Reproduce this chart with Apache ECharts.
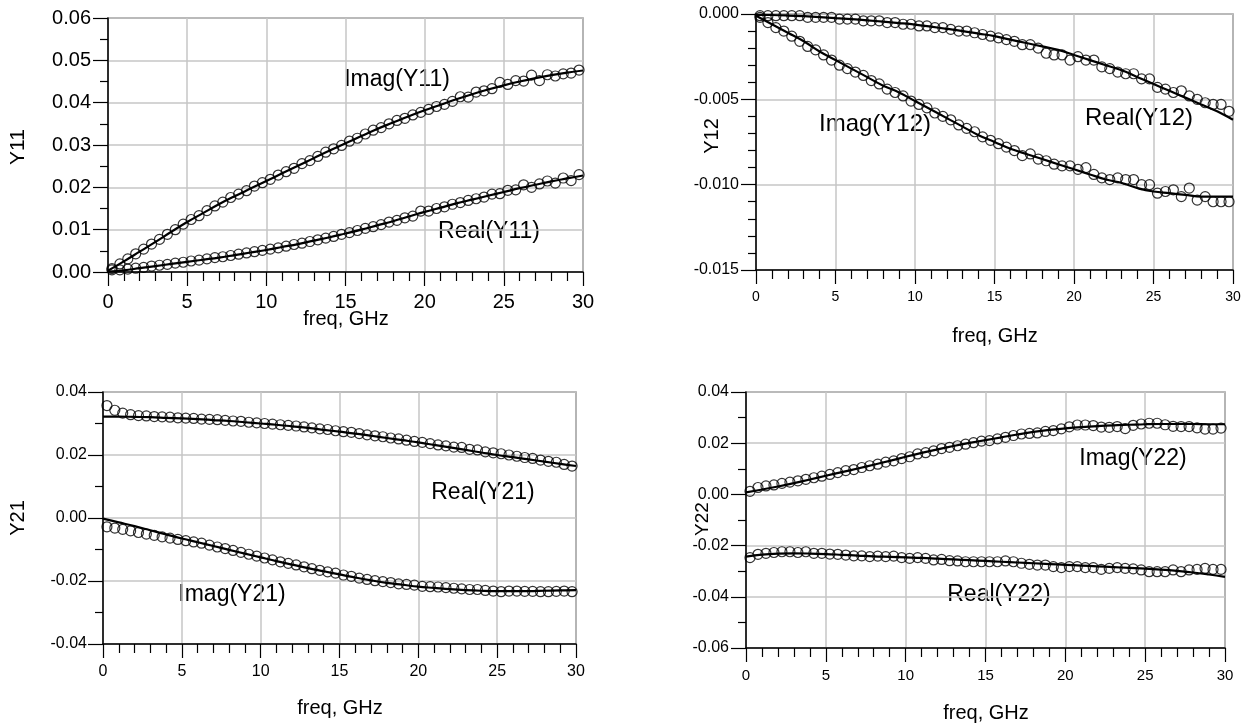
<!DOCTYPE html>
<html><head><meta charset="utf-8">
<script src="https://cdn.jsdelivr.net/npm/echarts/dist/echarts.min.js"></script>
<style>html,body{margin:0;padding:0;background:#fff}#c{width:1250px;height:726px}</style>
</head><body><div id="c"></div>
<script>
// frequency points (GHz)
const freqMeas = [0.25,0.75,1.25,1.75,2.25,2.75,3.25,3.75,4.25,4.75,5.25,5.75,6.25,6.75,7.25,7.75,8.25,8.75,9.25,9.75,
  10.25,10.75,11.25,11.75,12.25,12.75,13.25,13.75,14.25,14.75,15.25,15.75,16.25,16.75,17.25,17.75,18.25,18.75,19.25,19.75,
  20.25,20.75,21.25,21.75,22.25,22.75,23.25,23.75,24.25,24.75,25.25,25.75,26.25,26.75,27.25,27.75,28.25,28.75,29.25,29.75];
const freqModel = [0,1,2,3,4,5,6,7,8,9,10,11,12,13,14,15,16,17,18,19,20,21,22,23,24,25,26,27,28,29,30];

// Y11
const imagY11Meas = [0.0008,0.0019,0.0031,0.0043,0.0054,0.0066,0.0077,0.0089,0.0100,0.0113,0.0124,0.0133,0.0145,0.0156,0.0165,0.0176,0.0184,0.0192,0.0203,0.0211,
  0.0219,0.0229,0.0237,0.0245,0.0256,0.0263,0.0273,0.0283,0.0291,0.0299,0.0309,0.0316,0.0326,0.0335,0.0341,0.0350,0.0358,0.0363,0.0371,0.0377,
  0.0384,0.0391,0.0396,0.0403,0.0414,0.0413,0.0425,0.0428,0.0433,0.0448,0.0443,0.0452,0.0451,0.0465,0.0452,0.0466,0.0463,0.0468,0.0470,0.0477];
const imagY11Model = [0.0003,0.0025,0.0048,0.0071,0.0095,0.0118,0.0139,0.0160,0.0179,0.0197,0.0215,0.0233,0.0251,0.0269,0.0287,0.0304,0.0321,0.0338,0.0353,0.0368,0.0382,0.0395,0.0408,0.0420,0.0431,0.0441,0.0450,0.0458,0.0465,0.0471,0.0476];
const realY11Meas = [0.0005,0.0005,0.0007,0.0009,0.0011,0.0014,0.0016,0.0018,0.0021,0.0023,0.0026,0.0028,0.0031,0.0034,0.0036,0.0039,0.0042,0.0045,0.0048,0.0051,
  0.0054,0.0057,0.0061,0.0065,0.0068,0.0072,0.0076,0.0080,0.0084,0.0089,0.0093,0.0098,0.0103,0.0107,0.0112,0.0118,0.0122,0.0128,0.0132,0.0144,
  0.0144,0.0150,0.0154,0.0160,0.0164,0.0169,0.0173,0.0177,0.0184,0.0185,0.0193,0.0194,0.0206,0.0200,0.0208,0.0215,0.0210,0.0222,0.0216,0.0230];
const realY11Model = [0.0001,0.0004,0.0009,0.0014,0.0019,0.0024,0.0029,0.0034,0.0040,0.0046,0.0052,0.0059,0.0066,0.0074,0.0082,0.0091,0.0100,0.0110,0.0120,0.0131,0.0142,0.0152,0.0162,0.0171,0.0180,0.0189,0.0198,0.0206,0.0214,0.0221,0.0228];

// Y12
const realY12Meas = [-0.0001,-0.0001,-0.0001,-0.0001,-0.0001,-0.0001,-0.0002,-0.0002,-0.0002,-0.0002,-0.0003,-0.0003,-0.0003,-0.0004,-0.0004,-0.0004,-0.0005,-0.0005,-0.0006,-0.0006,
  -0.0007,-0.0007,-0.0008,-0.0008,-0.0009,-0.0010,-0.0010,-0.0011,-0.0012,-0.0013,-0.0014,-0.0015,-0.0016,-0.0018,-0.0018,-0.0020,-0.0023,-0.0024,-0.0024,-0.0027,
  -0.0025,-0.0027,-0.0027,-0.0031,-0.0032,-0.0034,-0.0035,-0.0035,-0.0038,-0.0038,-0.0043,-0.0044,-0.0046,-0.0045,-0.0048,-0.0050,-0.0052,-0.0053,-0.0053,-0.0057];
const realY12Model = [-0.00005,-0.00006,-0.00009,-0.00013,-0.00018,-0.00024,-0.0003,-0.00037,-0.00045,-0.00053,-0.00062,-0.00074,-0.00087,-0.0010,-0.00115,-0.0013,-0.0015,-0.0017,-0.0019,-0.0021,-0.0024,-0.0027,-0.0030,-0.0033,-0.0037,-0.0041,-0.0045,-0.0049,-0.0053,-0.0057,-0.0062];
const imagY12Meas = [-0.0002,-0.0005,-0.0008,-0.0010,-0.0013,-0.0016,-0.0019,-0.0021,-0.0024,-0.0027,-0.0030,-0.0032,-0.0034,-0.0036,-0.0039,-0.0041,-0.0044,-0.0046,-0.0048,-0.0051,
  -0.0053,-0.0055,-0.0058,-0.0060,-0.0062,-0.0065,-0.0067,-0.0069,-0.0072,-0.0074,-0.0076,-0.0078,-0.0080,-0.0083,-0.0082,-0.0085,-0.0086,-0.0088,-0.0089,-0.0089,
  -0.0091,-0.0090,-0.0094,-0.0096,-0.0097,-0.0096,-0.0097,-0.0097,-0.0100,-0.0100,-0.0105,-0.0104,-0.0103,-0.0107,-0.0102,-0.0109,-0.0107,-0.0110,-0.0110,-0.0110];
const imagY12Model = [-0.0001,-0.0006,-0.0011,-0.0016,-0.0022,-0.0027,-0.0032,-0.0037,-0.0042,-0.0046,-0.0051,-0.0056,-0.0061,-0.0066,-0.0071,-0.0075,-0.0079,-0.0082,-0.0085,-0.0088,-0.0091,-0.0094,-0.0097,-0.0099,-0.0102,-0.0104,-0.0105,-0.0106,-0.0107,-0.0107,-0.0107];

// Y21
const realY21Meas = [0.0357,0.0342,0.0333,0.0328,0.0325,0.0324,0.0322,0.0321,0.0320,0.0318,0.0317,0.0316,0.0314,0.0313,0.0312,0.0310,0.0308,0.0307,0.0304,0.0302,
  0.0300,0.0298,0.0296,0.0294,0.0292,0.0289,0.0286,0.0283,0.0281,0.0277,0.0274,0.0272,0.0268,0.0264,0.0261,0.0258,0.0254,0.0251,0.0247,0.0243,
  0.0240,0.0236,0.0232,0.0229,0.0225,0.0224,0.0218,0.0216,0.0210,0.0207,0.0204,0.0200,0.0196,0.0192,0.0189,0.0184,0.0180,0.0177,0.0170,0.0165];
const realY21Model = [0.0322,0.0322,0.0321,0.0320,0.0318,0.0316,0.0314,0.0311,0.0308,0.0304,0.0300,0.0296,0.0291,0.0286,0.0280,0.0274,0.0268,0.0261,0.0254,0.0247,0.0240,0.0232,0.0224,0.0216,0.0208,0.0200,0.0193,0.0186,0.0179,0.0172,0.0165];
const imagY21Meas = [-0.0028,-0.0032,-0.0036,-0.0041,-0.0046,-0.0051,-0.0055,-0.0060,-0.0064,-0.0068,-0.0072,-0.0076,-0.0080,-0.0086,-0.0092,-0.0097,-0.0103,-0.0109,-0.0115,-0.0121,
  -0.0127,-0.0133,-0.0139,-0.0144,-0.0149,-0.0155,-0.0161,-0.0166,-0.0171,-0.0175,-0.0181,-0.0185,-0.0191,-0.0195,-0.0199,-0.0202,-0.0205,-0.0209,-0.0211,-0.0213,
  -0.0217,-0.0218,-0.0219,-0.0221,-0.0223,-0.0225,-0.0227,-0.0227,-0.0230,-0.0232,-0.0234,-0.0232,-0.0232,-0.0233,-0.0233,-0.0234,-0.0234,-0.0233,-0.0232,-0.0234];
const imagY21Model = [-0.0002,-0.0014,-0.0026,-0.0039,-0.0052,-0.0065,-0.0077,-0.0089,-0.0101,-0.0113,-0.0125,-0.0137,-0.0148,-0.0159,-0.0169,-0.0179,-0.0189,-0.0198,-0.0206,-0.0212,-0.0218,-0.0222,-0.0226,-0.0229,-0.0231,-0.0232,-0.0232,-0.0232,-0.0231,-0.0230,-0.0229];

// Y22
const imagY22Meas = [0.0012,0.0027,0.0033,0.0037,0.0043,0.0048,0.0053,0.0059,0.0065,0.0071,0.0078,0.0085,0.0093,0.0097,0.0105,0.0112,0.0118,0.0126,0.0131,0.0140,
  0.0147,0.0158,0.0163,0.0170,0.0179,0.0184,0.0190,0.0196,0.0202,0.0208,0.0210,0.0217,0.0223,0.0230,0.0236,0.0238,0.0240,0.0246,0.0249,0.0256,
  0.0264,0.0271,0.0271,0.0269,0.0263,0.0262,0.0265,0.0257,0.0270,0.0275,0.0278,0.0278,0.0272,0.0266,0.0265,0.0265,0.0260,0.0255,0.0255,0.0259];
const imagY22Model = [0.0008,0.0019,0.0031,0.0044,0.0058,0.0073,0.0087,0.0101,0.0116,0.0131,0.0147,0.0162,0.0176,0.0189,0.0201,0.0212,0.0223,0.0234,0.0244,0.0252,0.0258,0.0263,0.0267,0.0270,0.0272,0.0274,0.0275,0.0275,0.0275,0.0274,0.0274];
const realY22Meas = [-0.0247,-0.0234,-0.0230,-0.0227,-0.0224,-0.0224,-0.0227,-0.0224,-0.0230,-0.0230,-0.0233,-0.0234,-0.0237,-0.0240,-0.0240,-0.0243,-0.0241,-0.0243,-0.0241,-0.0247,
  -0.0250,-0.0247,-0.0250,-0.0256,-0.0254,-0.0259,-0.0260,-0.0263,-0.0263,-0.0263,-0.0263,-0.0263,-0.0260,-0.0263,-0.0269,-0.0273,-0.0276,-0.0276,-0.0282,-0.0286,
  -0.0282,-0.0282,-0.0286,-0.0286,-0.0293,-0.0289,-0.0286,-0.0289,-0.0291,-0.0295,-0.0302,-0.0302,-0.0302,-0.0295,-0.0302,-0.0295,-0.0293,-0.0289,-0.0293,-0.0293];
const realY22Model = [-0.0243,-0.0235,-0.0231,-0.0230,-0.0231,-0.0233,-0.0236,-0.0239,-0.0242,-0.0244,-0.0246,-0.0248,-0.0251,-0.0254,-0.0257,-0.0260,-0.0263,-0.0266,-0.0269,-0.0272,-0.0275,-0.0278,-0.0281,-0.0284,-0.0287,-0.0290,-0.0294,-0.0299,-0.0305,-0.0313,-0.0322];

const xTicks = [0,5,10,15,20,25,30];

const FONT = '"Liberation Sans", Arial, sans-serif';
const chart = echarts.init(document.getElementById('c'), null, {renderer: 'canvas'});

const pairs = (xs, ys) => xs.map((x, i) => [x, ys[i]]);

const panels = [
  {grid:{left:108, top:18, width:475, height:254}, yMin:0, yMax:0.06, yInt:0.01, yMinor:2, dec:2, xFs:20, yFs:20, xMargin:20, yMargin:17,
   meas:[imagY11Meas, realY11Meas], model:[imagY11Model, realY11Model]},
  {grid:{left:756, top:14, width:477, height:256}, yMin:-0.015, yMax:0, yInt:0.005, yMinor:5, dec:3, xFs:14, yFs:16, xMargin:20, yMargin:17,
   meas:[realY12Meas, imagY12Meas], model:[realY12Model, imagY12Model]},
  {grid:{left:103, top:392, width:473, height:252}, yMin:-0.04, yMax:0.04, yInt:0.02, yMinor:2, dec:2, xFs:16, yFs:16, xMargin:20, yMargin:16,
   meas:[realY21Meas, imagY21Meas], model:[realY21Model, imagY21Model]},
  {grid:{left:746, top:392, width:479, height:256}, yMin:-0.06, yMax:0.04, yInt:0.02, yMinor:2, dec:2, xFs:15, yFs:16, xMargin:20, yMargin:17,
   meas:[imagY22Meas, realY22Meas], model:[imagY22Model, realY22Model]}
];

const grids = [], xAxes = [], yAxes = [], series = [];
panels.forEach((p, i) => {
  grids.push(Object.assign({show:true, borderColor:'#333', borderWidth:1.2, backgroundColor:'transparent'}, p.grid));
  xAxes.push({
    type:'value', gridIndex:i, min:xTicks[0], max:xTicks[xTicks.length-1], interval:xTicks[1]-xTicks[0],
    axisLine:{show:true, onZero:false, lineStyle:{color:'#000', width:1.5}},
    axisTick:{show:true, length:14, lineStyle:{color:'#000', width:1.2}},
    minorTick:{show:true, splitNumber:5, length:9, lineStyle:{color:'#000', width:1.2}},
    splitLine:{show:true, lineStyle:{color:'#c6c6c6', width:1.5}},
    axisLabel:{fontSize:p.xFs, color:'#000', fontFamily:FONT, margin:p.xMargin, showMinLabel:true, showMaxLabel:true}
  });
  yAxes.push({
    type:'value', gridIndex:i, min:p.yMin, max:p.yMax, interval:p.yInt,
    axisLine:{show:true, onZero:false, lineStyle:{color:'#000', width:1.5}},
    axisTick:{show:true, length:15, lineStyle:{color:'#000', width:1.2}},
    minorTick:{show:true, splitNumber:p.yMinor, length:8, lineStyle:{color:'#000', width:1.2}},
    splitLine:{show:true, lineStyle:{color:'#c6c6c6', width:1.5}},
    axisLabel:{fontSize:p.yFs, color:'#000', fontFamily:FONT, margin:p.yMargin, showMinLabel:true, showMaxLabel:true,
      formatter:v => (Math.abs(v) < 1e-12 ? 0 : v).toFixed(p.dec)}
  });
  p.meas.forEach(m => series.push({
    type:'scatter', xAxisIndex:i, yAxisIndex:i, data:pairs(freqMeas, m), symbol:'circle', symbolSize:10,
    itemStyle:{color:'rgba(0,0,0,0)', borderColor:'#000', borderWidth:1.2}, z:2, silent:true
  }));
  p.model.forEach(m => series.push({
    type:'line', xAxisIndex:i, yAxisIndex:i, data:pairs(freqModel, m), showSymbol:false, smooth:0.4,
    lineStyle:{color:'#000', width:2.2}, z:3, silent:true
  }));
});

const txt = (x, y, text, fs, rot) => ({type:'text', x, y, rotation:rot||0,
  style:{text, fontSize:fs, fontFamily:FONT, fill:'#000', align:'center', verticalAlign:'middle'}});

const graphic = [
  txt(397, 80, 'Imag(Y11)', 23), txt(489, 232, 'Real(Y11)', 23),
  txt(875, 124, 'Imag(Y12)', 24), txt(1139, 118, 'Real(Y12)', 24),
  txt(483, 493, 'Real(Y21)', 23), txt(232, 595, 'Imag(Y21)', 23),
  txt(1133, 459, 'Imag(Y22)', 23), txt(999, 595, 'Real(Y22)', 23),
  txt(346, 319, 'freq, GHz', 20), txt(995, 336, 'freq, GHz', 20),
  txt(340, 708, 'freq, GHz', 20), txt(986, 713, 'freq, GHz', 20),
  txt(18, 147, 'Y11', 21, Math.PI/2), txt(712, 136, 'Y12', 20, Math.PI/2),
  txt(18, 518, 'Y21', 20, Math.PI/2), txt(703, 519, 'Y22', 19, Math.PI/2)
];

chart.setOption({
  animation:false, backgroundColor:'#fff',
  grid:grids, xAxis:xAxes, yAxis:yAxes, series, graphic
});
</script></body></html>
